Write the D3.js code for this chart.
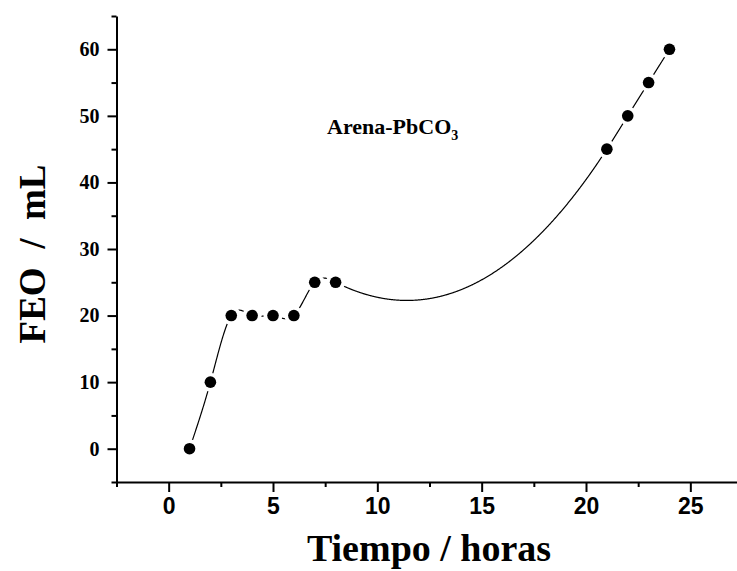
<!DOCTYPE html>
<html>
<head>
<meta charset="utf-8">
<script src="https://cdn.jsdelivr.net/npm/d3@7"></script>
<style>
  body { margin: 0; background: #fff; }
  svg { display: block; }
</style>
</head>
<body>
<div id="chart"></div>
<script>
// data
var hours = [1, 2, 3, 4, 5, 6, 7, 8, 21, 22, 23, 24];
var feo = [0, 10, 20, 20, 20, 20, 25, 25, 45, 50, 55, 60];
var xTicks = [0, 5, 10, 15, 20, 25];
var xMinor = [-2.5, 2.5, 7.5, 12.5, 17.5, 22.5, 27.5];
var yTicks = [0, 10, 20, 30, 40, 50, 60];
var yMinor = [-5, 5, 15, 25, 35, 45, 55, 65];

var svgWidth = 737;
var svgHeight = 571;

var svg = d3.select("#chart")
  .append("svg")
  .attr("width", svgWidth)
  .attr("height", svgHeight);

var xScale = d3.scaleLinear()
  .domain([-2.5, 27.5])
  .range([116.5, 742.5]);

var yScale = d3.scaleLinear()
  .domain([-5, 65])
  .range([482, 16]);

var serif = "'Liberation Serif', 'DejaVu Serif', serif";
var sans = "'Liberation Sans', Arial, sans-serif";

// natural cubic spline y(x) through the points, like Origin's spline connector
function naturalSpline(xs, ys) {
  var n = xs.length;
  var h = [], alpha = [], l = [1], mu = [0], z = [0], c = new Array(n).fill(0);
  for (var i = 0; i < n - 1; i++) h[i] = xs[i + 1] - xs[i];
  for (var i = 1; i < n - 1; i++) {
    alpha[i] = 3 / h[i] * (ys[i + 1] - ys[i]) - 3 / h[i - 1] * (ys[i] - ys[i - 1]);
  }
  for (var i = 1; i < n - 1; i++) {
    l[i] = 2 * (xs[i + 1] - xs[i - 1]) - h[i - 1] * mu[i - 1];
    mu[i] = h[i] / l[i];
    z[i] = (alpha[i] - h[i - 1] * z[i - 1]) / l[i];
  }
  var b = [], d = [];
  for (var j = n - 2; j >= 0; j--) {
    c[j] = (j === 0 ? 0 : z[j] - mu[j] * c[j + 1]);
    b[j] = (ys[j + 1] - ys[j]) / h[j] - h[j] * (c[j + 1] + 2 * c[j]) / 3;
    d[j] = (c[j + 1] - c[j]) / (3 * h[j]);
  }
  return function (x) {
    var k = 0;
    while (k < n - 2 && x > xs[k + 1]) k++;
    var dx = x - xs[k];
    return ys[k] + b[k] * dx + c[k] * dx * dx + d[k] * dx * dx * dx;
  };
}

var spline = naturalSpline(hours, feo);
var curvePts = d3.range(hours[0], hours[hours.length - 1] + 0.0001, 0.02)
  .map(function (x) { return [x, spline(x)]; });

var line = d3.line()
  .x(function (d) { return xScale(d[0]); })
  .y(function (d) { return yScale(d[1]); });

svg.append("path")
  .datum(curvePts)
  .attr("d", line)
  .attr("fill", "none")
  .attr("stroke", "black")
  .attr("stroke-width", 1.2);

// white halos give the gaps around markers
svg.append("g")
  .selectAll("circle")
  .data(hours)
  .enter()
  .append("circle")
  .attr("cx", function (d) { return xScale(d); })
  .attr("cy", function (d, i) { return yScale(feo[i]); })
  .attr("r", 9.5)
  .attr("fill", "white");

svg.append("g")
  .selectAll("circle")
  .data(hours)
  .enter()
  .append("circle")
  .attr("cx", function (d) { return xScale(d); })
  .attr("cy", function (d, i) { return yScale(feo[i]); })
  .attr("r", 5.8)
  .attr("fill", "black");

// x axis
var xAxis = svg.append("g")
  .attr("transform", "translate(0," + yScale(-5) + ")")
  .call(d3.axisBottom(xScale).tickValues(xTicks).tickSize(10).tickSizeOuter(0).tickPadding(6));
svg.append("g")
  .attr("transform", "translate(0," + yScale(-5) + ")")
  .call(d3.axisBottom(xScale).tickValues(xMinor).tickSize(5).tickSizeOuter(0).tickFormat(""))
  .select(".domain").remove();
xAxis.select(".domain").attr("stroke-width", 2);
xAxis.selectAll("text")
  .attr("font-family", sans)
  .attr("font-weight", "bold")
  .attr("font-size", 23)
  .attr("fill", "black");

// y axis
var yAxis = svg.append("g")
  .attr("transform", "translate(" + xScale(-2.5) + ",0)")
  .call(d3.axisLeft(yScale).tickValues(yTicks).tickSize(9).tickSizeOuter(0).tickPadding(8));
svg.append("g")
  .attr("transform", "translate(" + xScale(-2.5) + ",0)")
  .call(d3.axisLeft(yScale).tickValues(yMinor).tickSize(5).tickSizeOuter(0).tickFormat(""))
  .select(".domain").remove();
yAxis.select(".domain").attr("stroke-width", 2);
yAxis.selectAll("text")
  .attr("font-family", serif)
  .attr("font-weight", "bold")
  .attr("font-size", 20)
  .attr("fill", "black");
svg.selectAll(".tick line").attr("stroke-width", 2);

// axis titles
svg.append("text")
  .attr("x", 429)
  .attr("y", 561)
  .attr("text-anchor", "middle")
  .attr("font-family", serif)
  .attr("font-weight", "bold")
  .attr("font-size", 38)
  .text("Tiempo / horas");

svg.append("text")
  .attr("transform", "translate(45,254) rotate(-90)")
  .attr("text-anchor", "middle")
  .attr("font-family", serif)
  .attr("font-weight", "bold")
  .attr("font-size", 37)
  .style("white-space", "pre")
  .text("FEO  /  mL");

// annotation
var label = svg.append("text")
  .attr("x", 327)
  .attr("y", 134)
  .attr("font-family", serif)
  .attr("font-weight", "bold")
  .attr("font-size", 22);
label.append("tspan").text("Arena-PbCO");
label.append("tspan").attr("dy", 6).attr("font-size", 14).text("3");
</script>
</body>
</html>
